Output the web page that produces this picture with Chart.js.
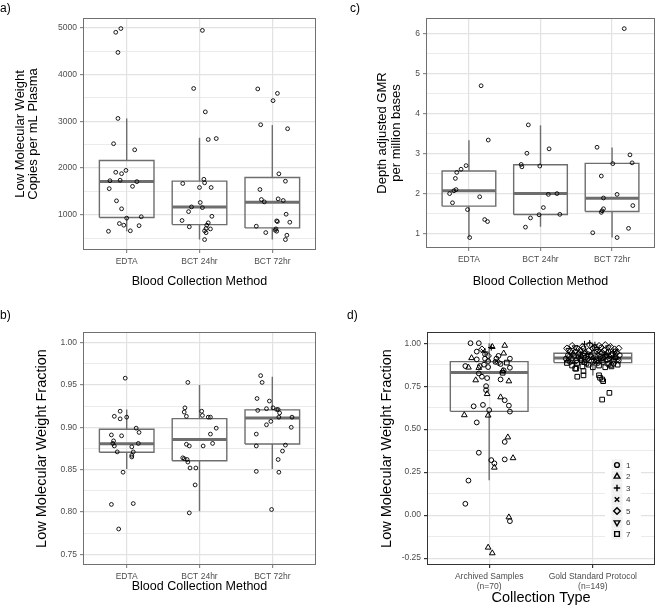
<!DOCTYPE html>
<html>
<head>
<meta charset="utf-8">
<script src="https://cdn.jsdelivr.net/npm/chart.js@4.4.1/dist/chart.umd.min.js"></script>
<style>
body { margin: 0; background: #fff; font-family: "Liberation Sans", Arial, sans-serif; }
#wrap { position: relative; width: 660px; height: 610px; }
.panel { position: absolute; }
.tag { position: absolute; font-size: 12px; color: #000; }
</style>
</head>
<body>
<div id="wrap">
  <div class="panel" style="left:0;top:0;width:330px;height:300px"><canvas id="chartA"></canvas></div>
  <div class="panel" style="left:330px;top:0;width:330px;height:300px"><canvas id="chartC"></canvas></div>
  <div class="panel" style="left:0;top:300px;width:330px;height:310px"><canvas id="chartB"></canvas></div>
  <div class="panel" style="left:330px;top:300px;width:330px;height:310px"><canvas id="chartD"></canvas></div>
  <div class="tag" style="left:0;top:1px">a)</div>
  <div class="tag" style="left:350px;top:1px">c)</div>
  <div class="tag" style="left:0;top:308px">b)</div>
  <div class="tag" style="left:347px;top:308px">d)</div>
</div>
<script>
const methods = ['EDTA', 'BCT 24hr', 'BCT 72hr'];
const collectionTypes = [['Archived Samples', '(n=70)'], ['Gold Standard Protocol', '(n=149)']];
const shapeNames = ['1', '2', '3', '4', '5', '6', '7'];

// a) copies per mL plasma
const copiesTicks = [1000, 2000, 3000, 4000, 5000];
const copiesMinor = [500, 1500, 2500, 3500, 4500];
const copiesBox = [[650, 943, 1713, 2162, 3060], [472, 793, 1171, 1720, 2647], [472, 722, 1271, 1800, 2918]];
const copiesEdta = [4900, 4980, 4470, 3060, 2520, 2390, 1910, 1880, 1950, 1730, 1740, 1710, 1610, 1560, 1300, 1130, 930, 960, 815, 780, 660, 650, 770];
const copiesEdtaJitter = [-0.15, -0.08, -0.12, -0.12, -0.18, 0.11, -0.15, -0.07, -0.01, -0.23, -0.09, 0.14, 0.08, -0.24, -0.14, -0.07, 0.0, 0.2, -0.1, -0.04, 0.05, -0.25, 0.17];
const copies24 = [4940, 3700, 3200, 2610, 2630, 1760, 1670, 1685, 1585, 1585, 1265, 1170, 1155, 1070, 970, 880, 830, 780, 745, 710, 660, 700, 620, 472];
const copies24Jitter = [0.04, -0.08, 0.08, 0.12, 0.23, 0.06, -0.23, 0.07, 0.0, 0.16, 0.01, -0.11, 0.04, -0.15, 0.17, -0.24, 0.12, 0.1, -0.14, 0.09, 0.07, 0.15, 0.09, 0.07];
const copies72 = [3690, 3595, 3440, 2925, 2840, 1877, 1720, 1542, 1328, 1278, 1342, 1307, 1014, 857, 843, 872, 758, 622, 701, 672, 651, 565, 472];
const copies72Jitter = [-0.2, 0.07, 0.01, -0.16, 0.21, 0.09, 0.18, -0.17, -0.15, -0.11, 0.08, 0.15, 0.19, 0.07, 0.24, 0.06, -0.22, -0.09, 0.05, 0.04, 0.06, 0.2, 0.18];

// c) depth adjusted GMR
const gmrTicks = [1, 2, 3, 4, 5, 6];
const gmrMinor = [1.5, 2.5, 3.5, 4.5, 5.5];
const gmrBox = [[0.9, 1.686, 2.07, 2.564, 3.333], [1.167, 1.477, 2.003, 2.722, 3.709], [0.9, 1.552, 1.886, 2.756, 3.157]];
const gmrEdta = [4.70, 3.34, 2.70, 2.61, 2.53, 2.38, 2.10, 2.07, 2.00, 1.77, 1.92, 1.60, 1.35, 1.30, 0.90];
const gmrEdtaJitter = [0.17, 0.27, -0.04, -0.11, -0.17, -0.19, -0.18, -0.21, -0.27, -0.23, 0.15, -0.02, 0.22, 0.26, 0.01];
const gmr24 = [3.72, 3.01, 3.12, 2.73, 2.67, 2.69, 1.98, 2.00, 1.65, 1.39, 1.47, 1.48, 1.16];
const gmr24Jitter = [-0.17, -0.19, 0.12, -0.27, -0.26, -0.01, 0.11, 0.23, 0.04, -0.14, -0.02, 0.27, -0.21];
const gmr72 = [6.13, 3.16, 2.97, 2.75, 2.77, 2.44, 1.89, 1.98, 1.62, 1.57, 1.53, 1.70, 1.02, 1.13, 0.90];
const gmr72Jitter = [0.17, -0.21, 0.25, 0.01, 0.28, -0.15, -0.12, 0.07, -0.12, -0.14, -0.15, 0.29, -0.27, 0.23, 0.07];

// b) low molecular weight fraction
const fracTicks = [0.75, 0.80, 0.85, 0.90, 0.95, 1.00];
const fracMinor = [0.775, 0.825, 0.875, 0.925, 0.975];
const fracBox = [[0.8507, 0.8705, 0.8807, 0.8977, 0.921], [0.801, 0.8606, 0.8855, 0.9103, 0.950], [0.8507, 0.8803, 0.9111, 0.9206, 0.9597]];
const fracEdta = [0.958, 0.919, 0.913, 0.910, 0.912, 0.899, 0.894, 0.891, 0.890, 0.884, 0.881, 0.878, 0.881, 0.877, 0.871, 0.871, 0.867, 0.865, 0.847, 0.809, 0.810, 0.780];
const fracEdtaJitter = [-0.02, -0.09, -0.17, -0.09, 0.0, 0.13, 0.17, -0.21, -0.07, -0.18, -0.19, -0.17, 0.16, 0.07, -0.13, 0.09, 0.07, 0.07, -0.05, -0.21, 0.09, -0.11];
const frac24 = [0.953, 0.923, 0.918, 0.913, 0.919, 0.914, 0.912, 0.912, 0.899, 0.892, 0.880, 0.878, 0.878, 0.881, 0.864, 0.863, 0.862, 0.859, 0.852, 0.852, 0.832, 0.799];
const frac24Jitter = [-0.16, -0.2, -0.21, -0.18, 0.03, 0.04, 0.12, 0.15, 0.23, 0.15, -0.18, -0.14, 0.05, 0.18, -0.23, -0.21, -0.17, -0.16, -0.13, -0.05, -0.06, -0.14];
const frac72 = [0.961, 0.953, 0.934, 0.931, 0.920, 0.922, 0.923, 0.921, 0.921, 0.917, 0.912, 0.907, 0.903, 0.912, 0.900, 0.892, 0.879, 0.878, 0.872, 0.862, 0.847, 0.848, 0.803];
const frac72Jitter = [-0.16, -0.14, -0.21, -0.04, -0.2, -0.08, 0.01, 0.06, 0.08, 0.1, 0.09, -0.02, -0.08, 0.27, 0.26, -0.22, 0.18, -0.22, 0.14, 0.08, 0.09, -0.22, -0.01];

// d) fraction by collection type, one inner list per shape 1..7
const typeTicks = [-0.25, 0.00, 0.25, 0.50, 0.75, 1.00];
const typeMinor = [-0.125, 0.125, 0.375, 0.625, 0.875];
const typeBox = [[0.203, 0.6035, 0.83, 0.8926, 1.0], [0.8125, 0.887, 0.914, 0.941, 1.0]];
const archivedFraction = [
  [1.0, 1.0, 0.951, 0.936, 0.906, 0.875, 0.867, 0.879, 0.842, 0.857, 0.91, 0.824, 0.805, 0.797, 0.789, 0.75, 0.727, 0.668, 0.637, 0.602, 0.633, 0.641, 0.611, 0.539, 0.426, 0.363, 0.32, 0.301, 0.324, 0.201, 0.066, -0.035, 0.891, 0.91, 0.91, 0.861, 0.896, 0.867, 0.926],
  [0.914, 0.979, 0.986, 0.941, 0.785, 0.705, 0.686, 0.779, 0.582, 0.58, 0.453, 0.277, 0.332, -0.012, -0.188, -0.221, 0.859, 0.838, 0.857],
  [0.975, 0.949],
  [0.955, 0.896],
  [0.965, 0.926, 0.887],
  [],
  [0.887, 0.828]
];
const archivedJitter = [
  [-0.18, -0.1, -0.12, -0.04, -0.12, -0.05, -0.23, 0.11, 0.14, 0.2, 0.2, -0.1, -0.07, -0.02, 0.11, -0.03, -0.03, 0.15, 0.19, 0.2, -0.15, -0.06, 0.0, -0.12, 0.15, -0.1, 0.02, 0.05, 0.15, -0.2, -0.23, 0.2, 0.06, 0.07, -0.04, -0.01, -0.01, -0.09, 0.09],
  [-0.17, 0.03, 0.15, 0.14, -0.13, -0.02, 0.11, 0.19, -0.24, -0.01, 0.18, 0.05, 0.23, 0.19, -0.01, 0.03, -0.2, 0.13, -0.1],
  [0.02, -0.04],
  [-0.06, 0.07],
  [-0.07, -0.01, 0.09],
  [],
  [0.17, 0.13]
];
const goldFraction = [
  [0.93, 0.91, 0.95, 0.92, 0.90, 0.94, 0.91, 0.93, 0.90, 0.95, 0.92, 0.89, 0.93, 0.91, 0.94, 0.92, 0.90, 0.89, 0.96, 0.97, 0.96, 0.88, 0.88, 0.885, 0.95, 0.925, 0.93, 0.97, 0.975, 0.91],
  [0.94, 0.95, 0.93, 0.945, 0.915, 0.925, 0.915, 0.9, 0.9, 0.87],
  [0.995, 1.0, 0.99, 0.93, 0.935, 0.95, 0.885, 0.9],
  [0.955, 0.94, 0.955, 0.92, 0.935, 0.89, 0.89, 0.9],
  [0.97, 0.985, 0.97, 0.98, 0.99, 0.975, 0.985, 0.99, 0.98, 0.965, 0.97, 0.95, 0.94, 0.955, 0.945, 0.93, 0.945, 0.915, 0.92, 0.905, 0.9, 0.9, 0.895, 0.915, 0.92],
  [0.975, 0.965, 0.975, 0.925, 0.92, 0.955, 0.96],
  [0.87, 0.885, 0.865, 0.875, 0.86, 0.87, 0.86, 0.865, 0.875, 0.885, 0.89, 0.88, 0.852, 0.805, 0.813, 0.838, 0.852, 0.813, 0.789, 0.779, 0.799, 0.672, 0.711, 0.9, 0.91, 0.91]
];
const goldJitter = [
  [-0.24, -0.2, -0.17, -0.14, -0.11, -0.08, -0.05, -0.02, 0.01, 0.04, 0.07, 0.1, 0.13, 0.16, 0.19, 0.22, 0.25, -0.22, -0.12, 0.0, 0.11, 0.2, -0.06, 0.05, 0.15, -0.18, 0.26, -0.09, 0.08, -0.26],
  [-0.19, -0.07, 0.05, 0.14, 0.22, -0.11, 0.0, 0.09, -0.24, 0.17],
  [-0.08, -0.03, 0.02, -0.12, 0.11, 0.2, -0.18, 0.06],
  [-0.14, -0.02, 0.08, 0.17, -0.21, 0.24, 0.03, -0.09],
  [-0.25, -0.2, -0.15, -0.1, -0.03, 0.02, 0.06, 0.12, 0.17, 0.21, 0.25, -0.22, -0.13, -0.04, 0.09, 0.18, 0.23, -0.07, 0.03, 0.14, -0.16, 0.2, -0.01, 0.1, -0.23],
  [-0.17, 0.04, 0.15, -0.05, 0.12, 0.22, -0.23],
  [-0.2, -0.15, -0.1, -0.04, 0.0, 0.06, 0.12, 0.18, 0.24, -0.25, -0.08, 0.15, -0.16, -0.15, -0.09, -0.09, -0.17, 0.06, 0.09, 0.1, 0.07, 0.09, 0.16, 0.03, -0.12, 0.2]
];

Chart.defaults.font.family = '"Liberation Sans", Arial, sans-serif';

const boxColor = '#6e6e6e';
const gridColor = '#e2e2e2';
const shapeStyles = [
  {pointStyle: 'circle', radius: 2.4, rotation: 0},
  {pointStyle: 'triangle', radius: 3.3, rotation: 0},
  {pointStyle: 'cross', radius: 3.2, rotation: 0},
  {pointStyle: 'crossRot', radius: 3.2, rotation: 0},
  {pointStyle: 'rectRot', radius: 3.3, rotation: 0},
  {pointStyle: 'triangle', radius: 3.3, rotation: 180},
  {pointStyle: 'rect', radius: 3.3, rotation: 0}
];

function jittered(values, jitter, cat) {
  return values.map((v, i) => ({x: cat + jitter[i], y: v}));
}

function pointSet(data) {
  return {data: data, pointStyle: 'circle', pointRadius: 1.9, pointBorderWidth: 0.9,
    borderColor: '#000', backgroundColor: 'rgba(0,0,0,0)', pointHoverRadius: 1.9, order: 0};
}

function boxDatasets(stats) {
  const out = [];
  const w = 0.375;
  stats.forEach((s, i) => {
    const c = i + 1;
    const lo = s[0], q1 = s[1], med = s[2], q3 = s[3], hi = s[4];
    const base = {showLine: true, pointRadius: 0, pointHoverRadius: 0, borderColor: boxColor, fill: false, order: 1, borderJoinStyle: 'miter'};
    out.push(Object.assign({}, base, {borderWidth: 1.4, data: [{x: c - w, y: q1}, {x: c + w, y: q1}, {x: c + w, y: q3}, {x: c - w, y: q3}, {x: c - w, y: q1}]}));
    out.push(Object.assign({}, base, {borderWidth: 3, data: [{x: c - w, y: med}, {x: c + w, y: med}]}));
    out.push(Object.assign({}, base, {borderWidth: 1.4, data: [{x: c, y: q3}, {x: c, y: hi}]}));
    out.push(Object.assign({}, base, {borderWidth: 1.4, data: [{x: c, y: q1}, {x: c, y: lo}]}));
  });
  return out;
}

const panelBorder = {
  id: 'panelBorder',
  afterDraw(chart, args, opts) {
    const a = chart.chartArea;
    const ctx = chart.ctx;
    ctx.save();
    ctx.strokeStyle = opts.color;
    ctx.lineWidth = 1;
    ctx.strokeRect(Math.round(a.left) + 0.5, Math.round(a.top) + 0.5, Math.round(a.width) - 1, Math.round(a.height) - 1);
    ctx.restore();
  }
};

const shapeLegend = {
  id: 'shapeLegend',
  afterDraw(chart) {
    const a = chart.chartArea;
    const ctx = chart.ctx;
    const sx = a.right - 38, tx = a.right - 29, y0 = a.top + 133, step = 11.5;
    ctx.save();
    ctx.fillStyle = '#fff';
    ctx.fillRect(a.right - 50, y0 - 8, 36, step * 7 + 4);
    shapeNames.forEach((name, i) => {
      const y = y0 + i * step;
      ctx.fillStyle = '#f0f0f0';
      ctx.fillRect(sx - 5.5, y - 5.5, 11, 11);
      ctx.strokeStyle = '#000';
      ctx.fillStyle = 'rgba(0,0,0,0)';
      ctx.lineWidth = 1.4;
      Chart.helpers.drawPoint(ctx, {pointStyle: shapeStyles[i].pointStyle, rotation: shapeStyles[i].rotation,
        radius: shapeStyles[i].radius, borderWidth: 1.4}, sx, y);
      ctx.fillStyle = '#333';
      ctx.font = '8px "Liberation Sans", Arial, sans-serif';
      ctx.textAlign = 'left';
      ctx.textBaseline = 'middle';
      ctx.fillText(name, tx, y + 0.5);
    });
    ctx.restore();
  }
};

function makePanel(id, p) {
  const allTicks = p.majors.concat(p.minors).sort((a, b) => a - b);
  const isMajor = v => p.majors.indexOf(v) !== -1;
  new Chart(document.getElementById(id), {
    type: 'scatter',
    data: {datasets: p.points.concat(boxDatasets(p.boxes))},
    plugins: [panelBorder].concat(p.extra || []),
    options: {
      responsive: true,
      maintainAspectRatio: false,
      animation: false,
      events: [],
      layout: {padding: {left: 0, top: p.top, right: p.right, bottom: 0}},
      plugins: {legend: {display: false}, tooltip: {enabled: false}, panelBorder: {color: p.border}},
      scales: {
        x: {
          type: 'linear',
          min: 0.4,
          max: p.cats.length + 0.6,
          afterBuildTicks: s => { s.ticks = p.cats.map((c, i) => ({value: i + 1})); },
          afterFit: s => { s.height = p.xHeight; },
          ticks: {
            callback: v => p.cats[Math.round(v) - 1],
            font: {size: 8.5, lineHeight: 1.18},
            color: '#4d4d4d',
            padding: p.xTickPad,
            maxRotation: 0,
            autoSkip: false
          },
          grid: {color: gridColor, lineWidth: 1.2, tickColor: p.tickColor, tickLength: 3},
          border: {display: false},
          title: {display: true, text: p.xTitle, color: '#000', font: {size: p.xTitleSize, lineHeight: 1.2},
            padding: {top: 0, bottom: p.xTitlePad}}
        },
        y: {
          type: 'linear',
          min: p.yMin,
          max: p.yMax,
          afterBuildTicks: s => { s.ticks = allTicks.map(v => ({value: v})); },
          afterFit: s => { s.width = p.yWidth; },
          ticks: {
            callback: v => isMajor(v) ? p.fmt(v) : '',
            font: {size: 8.5},
            color: '#4d4d4d',
            padding: 3
          },
          grid: {
            color: gridColor,
            lineWidth: c => (c.tick && isMajor(c.tick.value)) ? 1.2 : 0.7,
            tickColor: c => (c.tick && isMajor(c.tick.value)) ? p.tickColor : 'rgba(0,0,0,0)',
            tickLength: 3
          },
          border: {display: false},
          title: {display: true, text: p.yTitle, color: '#000', font: {size: p.yTitleSize, lineHeight: p.yTitleLH},
            padding: {top: p.yTitlePad, bottom: 0}}
        }
      }
    }
  });
}

makePanel('chartA', {
  cats: methods,
  points: [pointSet(jittered(copiesEdta, copiesEdtaJitter, 1)), pointSet(jittered(copies24, copies24Jitter, 2)), pointSet(jittered(copies72, copies72Jitter, 3))],
  boxes: copiesBox,
  majors: copiesTicks, minors: copiesMinor, fmt: v => String(v),
  yMin: 250, yMax: 5205,
  top: 18, right: 14, yWidth: 83, xHeight: 50,
  xTickPad: 4, xTitle: 'Blood Collection Method', xTitleSize: 12.5, xTitlePad: 10.5,
  yTitle: ['Low Molecular Weight', 'Copies per mL Plasma'], yTitleSize: 13, yTitleLH: 1.0, yTitlePad: 13.5,
  border: '#707070', tickColor: '#8a8a8a'
});

makePanel('chartC', {
  cats: methods,
  points: [pointSet(jittered(gmrEdta, gmrEdtaJitter, 1)), pointSet(jittered(gmr24, gmr24Jitter, 2)), pointSet(jittered(gmr72, gmr72Jitter, 3))],
  boxes: gmrBox,
  majors: gmrTicks, minors: gmrMinor, fmt: v => String(v),
  yMin: 0.638, yMax: 6.396,
  top: 18, right: 5, yWidth: 96, xHeight: 52,
  xTickPad: 4, xTitle: 'Blood Collection Method', xTitleSize: 12.5, xTitlePad: 10.5,
  yTitle: ['Depth adjusted GMR', 'per million bases'], yTitleSize: 13, yTitleLH: 1.08, yTitlePad: 45.5,
  border: '#707070', tickColor: '#8a8a8a'
});

makePanel('chartB', {
  cats: methods,
  points: [pointSet(jittered(fracEdta, fracEdtaJitter, 1)), pointSet(jittered(frac24, frac24Jitter, 2)), pointSet(jittered(frac72, frac72Jitter, 3))],
  boxes: fracBox,
  majors: fracTicks, minors: fracMinor, fmt: v => v.toFixed(2),
  yMin: 0.7375, yMax: 1.0125,
  top: 32, right: 14, yWidth: 83, xHeight: 45,
  xTickPad: 4, xTitle: 'Blood Collection Method', xTitleSize: 12.5, xTitlePad: 15.5,
  yTitle: 'Low Molecular Weight Fraction', yTitleSize: 14.5, yTitleLH: 1.2, yTitlePad: 33,
  border: '#707070', tickColor: '#8a8a8a'
});

const typeSets = shapeStyles.map((st, k) => ({
  label: shapeNames[k],
  data: jittered(archivedFraction[k], archivedJitter[k], 1).concat(jittered(goldFraction[k], goldJitter[k], 2)),
  pointStyle: st.pointStyle,
  rotation: st.rotation,
  pointRadius: st.radius,
  pointHoverRadius: st.radius,
  pointBorderWidth: 1,
  borderColor: '#000',
  backgroundColor: 'rgba(0,0,0,0)',
  order: 0
}));

makePanel('chartD', {
  cats: collectionTypes,
  points: typeSets,
  boxes: typeBox,
  majors: typeTicks, minors: typeMinor, fmt: v => v.toFixed(2),
  yMin: -0.29, yMax: 1.065,
  top: 32, right: 5, yWidth: 97, xHeight: 45,
  xTickPad: 4, xTitle: 'Collection Type', xTitleSize: 14.5, xTitlePad: 3.3,
  yTitle: 'Low Molecular Weight Fraction', yTitleSize: 14.5, yTitleLH: 1.2, yTitlePad: 48,
  border: '#333', tickColor: '#333',
  extra: [shapeLegend]
});
</script>
</body>
</html>
